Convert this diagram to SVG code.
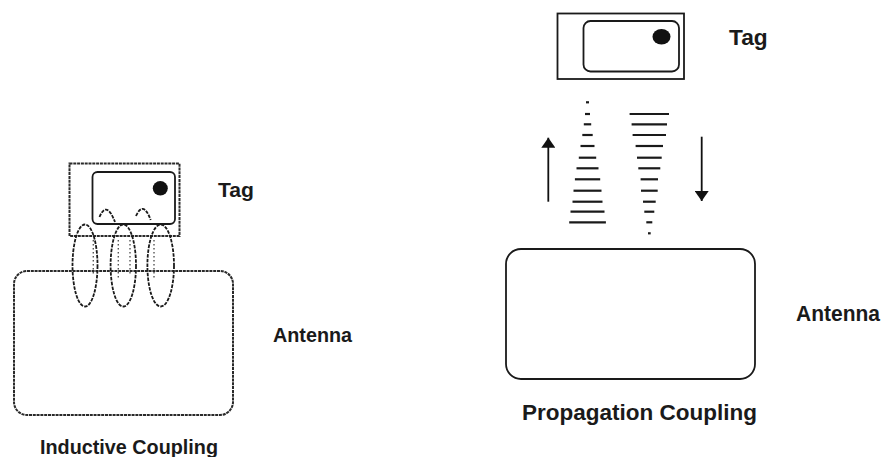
<svg xmlns="http://www.w3.org/2000/svg" width="883" height="457" viewBox="0 0 883 457">
<style>
.lbl{font-family:"Liberation Sans",Arial,sans-serif;font-weight:bold;fill:#1a1a1a}
.l{font-size:20px}
.r{font-size:21.5px}
.box{fill:none;stroke:#1a1a1a;stroke-width:1.8}
.dbox{fill:none;stroke:#2a2a2a;stroke-width:2;stroke-dasharray:3 0.8}
.loop{fill:none;stroke:#1a1a1a;stroke-width:1.8;stroke-dasharray:3.5 1.2}
.dots{fill:none;stroke:#555;stroke-width:1.4;stroke-dasharray:1.5 2.5}
.wave{stroke:#1a1a1a;stroke-width:2.2}
.arr{stroke:#111;stroke-width:1.8;fill:none}
</style>
<defs>
<marker id="ah" viewBox="0 0 10 14" refX="10" refY="7" markerWidth="10" markerHeight="14" markerUnits="userSpaceOnUse" orient="auto">
<path d="M0,0 L10,7 L0,14 z" fill="#111"/>
</marker>
</defs>
<rect width="883" height="457" fill="#fff"/>

<!-- Inductive coupling (left) -->
<g id="tag-left">
<rect class="dbox" x="69.5" y="163.5" width="110" height="72.5"/>
<rect class="box" x="92.5" y="172" width="82.5" height="52" rx="5"/>
<ellipse cx="160.3" cy="188.3" rx="7.5" ry="7.2" fill="#111"/>
<path class="loop" d="M99.5,217 Q106.5,200 115,222"/>
<path class="loop" d="M136,216 Q143.3,200 150.7,220"/>
</g>
<g id="antenna-left">
<rect class="dbox" x="14" y="271" width="219" height="144" rx="13"/>
</g>
<g id="loops-left">
<ellipse class="loop" cx="85" cy="265.5" rx="12.5" ry="41"/>
<ellipse class="loop" cx="123.3" cy="265.5" rx="12.7" ry="41"/>
<ellipse class="loop" cx="160.7" cy="265.5" rx="13.3" ry="41"/>
<line class="dots" x1="93.3" y1="240" x2="93.3" y2="274"/>
<line class="dots" x1="118.3" y1="240" x2="118.3" y2="280"/>
<line class="dots" x1="130" y1="240" x2="130" y2="274"/>
<line class="dots" x1="154" y1="240" x2="154" y2="280"/>
</g>
<text class="lbl l" x="218" y="197" textLength="36" lengthAdjust="spacingAndGlyphs">Tag</text>
<text class="lbl l" x="273" y="341.5" textLength="79" lengthAdjust="spacingAndGlyphs">Antenna</text>
<text class="lbl l" x="40" y="454" textLength="178" lengthAdjust="spacingAndGlyphs">Inductive Coupling</text>

<!-- Propagation coupling (right) -->
<g id="tag-right">
<rect class="box" x="557.5" y="13.5" width="126.5" height="65.5"/>
<rect class="box" x="583.5" y="21" width="95.5" height="50.5" rx="7"/>
<ellipse cx="661.5" cy="36.7" rx="9" ry="7.7" fill="#111"/>
</g>
<g id="antenna-right">
<rect class="box" x="506" y="249" width="249" height="130" rx="15"/>
</g>
<g id="connectors">
<g id="wave-up">
<line class="wave" x1="586" y1="102.3" x2="589" y2="102.3"/>
<line class="wave" x1="585" y1="114" x2="590" y2="114"/>
<line class="wave" x1="583.8" y1="124.3" x2="591.2" y2="124.3"/>
<line class="wave" x1="582.3" y1="135" x2="592.7" y2="135"/>
<line class="wave" x1="580.5" y1="146" x2="594.5" y2="146"/>
<line class="wave" x1="578.8" y1="157.7" x2="596.2" y2="157.7"/>
<line class="wave" x1="576.5" y1="168.3" x2="598.5" y2="168.3"/>
<line class="wave" x1="574.9" y1="179.3" x2="600.2" y2="179.3"/>
<line class="wave" x1="573.5" y1="190.7" x2="601.5" y2="190.7"/>
<line class="wave" x1="572.5" y1="201.7" x2="602.5" y2="201.7"/>
<line class="wave" x1="570.5" y1="211.7" x2="604.5" y2="211.7"/>
<line class="wave" x1="569.2" y1="222.3" x2="605.9" y2="222.3"/>
</g>
<g id="wave-down">
<line class="wave" x1="629.6" y1="114" x2="669" y2="114"/>
<line class="wave" x1="631.6" y1="124.3" x2="667" y2="124.3"/>
<line class="wave" x1="632.6" y1="135" x2="666" y2="135"/>
<line class="wave" x1="635.6" y1="146" x2="663" y2="146"/>
<line class="wave" x1="637" y1="157.7" x2="661.7" y2="157.7"/>
<line class="wave" x1="638.3" y1="168.3" x2="660.3" y2="168.3"/>
<line class="wave" x1="640.6" y1="179.3" x2="658" y2="179.3"/>
<line class="wave" x1="641" y1="190.7" x2="657.7" y2="190.7"/>
<line class="wave" x1="643" y1="201.7" x2="655.7" y2="201.7"/>
<line class="wave" x1="644.3" y1="211.7" x2="654.3" y2="211.7"/>
<line class="wave" x1="646.3" y1="222.3" x2="652.3" y2="222.3"/>
<line class="wave" x1="648" y1="233.3" x2="650.7" y2="233.3"/>
</g>
<line class="arr" x1="548.3" y1="201.7" x2="548.3" y2="137.7" marker-end="url(#ah)"/>
<line class="arr" x1="701.7" y1="136.7" x2="701.7" y2="201" marker-end="url(#ah)"/>
</g>
<text class="lbl r" x="729" y="44.5" textLength="38.7" lengthAdjust="spacingAndGlyphs">Tag</text>
<text class="lbl r" x="796" y="320.5" textLength="84" lengthAdjust="spacingAndGlyphs">Antenna</text>
<text class="lbl r" x="522" y="420" textLength="235" lengthAdjust="spacingAndGlyphs">Propagation Coupling</text>
</svg>
